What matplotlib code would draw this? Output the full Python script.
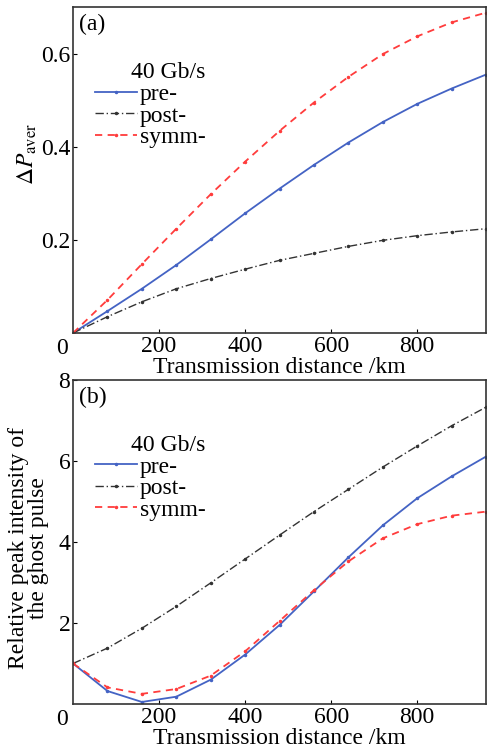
import numpy as np
import matplotlib.pyplot as plt

dist = [0, 80, 160, 240, 320, 400, 480, 560, 640, 720, 800, 880, 960]

# (a) average power change
pa_pre = [0, 0.047, 0.095, 0.146, 0.201, 0.257, 0.310, 0.361, 0.409, 0.453, 0.492, 0.525, 0.555]
pa_post = [0, 0.035, 0.067, 0.095, 0.117, 0.137, 0.156, 0.171, 0.186, 0.199, 0.209, 0.217, 0.224]
pa_symm = [0, 0.071, 0.148, 0.224, 0.298, 0.368, 0.434, 0.495, 0.550, 0.599, 0.637, 0.667, 0.688]

# (b) relative ghost pulse peak
pb_pre = [1.0, 0.32, 0.05, 0.18, 0.60, 1.22, 1.95, 2.78, 3.62, 4.41, 5.08, 5.62, 6.11]
pb_post = [1.0, 1.38, 1.87, 2.41, 2.99, 3.58, 4.17, 4.75, 5.30, 5.85, 6.37, 6.87, 7.33]
pb_symm = [1.0, 0.41, 0.25, 0.37, 0.70, 1.30, 2.05, 2.81, 3.52, 4.09, 4.44, 4.65, 4.75]

labels = ["pre-", "post-", "symm-"]

plt.rcParams['font.family'] = ['Liberation Serif']
plt.rcParams['mathtext.fontset'] = 'stix'

fs = 17
fig = plt.figure(figsize=(4.87, 7.51), dpi=100)
ax1 = fig.add_axes([0.150, 0.5566, 0.848, 0.434])
ax2 = fig.add_axes([0.150, 0.0626, 0.848, 0.4314])

def draw(ax, pre, post, symm, ylim, yticks, ylabel, ylab_xy, tag):
    ax.plot(dist, pre, color='#4463c4', lw=1.3, ls='-', marker='o', ms=1.5, label=labels[0])
    ax.plot(dist, post, color='#333333', lw=1.0, ls=(0, (6, 2, 1, 2)), marker='o', ms=1.5, label=labels[1])
    ax.plot(dist, symm, color='#ff3c3c', lw=1.3, ls=(0, (4, 3)), marker='o', ms=1.5, label=labels[2])
    ax.set_xlim(0, 960)
    ax.set_ylim(*ylim)
    ax.set_xticks([200, 400, 600, 800])
    ax.set_yticks(yticks)
    ax.tick_params(direction='in', length=3, labelsize=fs, width=0.8, pad=2)
    for s in ax.spines.values():
        s.set_linewidth(1.2)
        s.set_color('#333333')
    ax.set_xlabel("Transmission distance /km", fontsize=fs, labelpad=0)
    ax.set_ylabel(ylabel, fontsize=fs, linespacing=0.95)
    ax.yaxis.set_label_coords(*ylab_xy)
    ax.text(0.015, 0.98, tag, transform=ax.transAxes, fontsize=fs, va='top', ha='left')
    ax.text(-0.012, -0.015, "0", transform=ax.transAxes, fontsize=fs, va='top', ha='right')
    leg = ax.legend(loc='upper left', bbox_to_anchor=(0.053, 0.83), frameon=False,
                    title="40 Gb/s", fontsize=fs, title_fontsize=fs,
                    handlelength=1.8, handletextpad=0.1, labelspacing=0.0,
                    borderpad=0, borderaxespad=0)
    leg._legend_box.align = 'right'

draw(ax1, pa_pre, pa_post, pa_symm, (0, 0.7), [0.2, 0.4, 0.6],
     r'$\Delta \mathit{P}_{\rm aver}$', (-0.082, 0.55), "(a)")
draw(ax2, pb_pre, pb_post, pb_symm, (0, 8), [2, 4, 6, 8],
     "Relative peak intensity of\nthe ghost pulse", (-0.058, 0.48), "(b)")

fig.savefig("out.png", dpi=100)
